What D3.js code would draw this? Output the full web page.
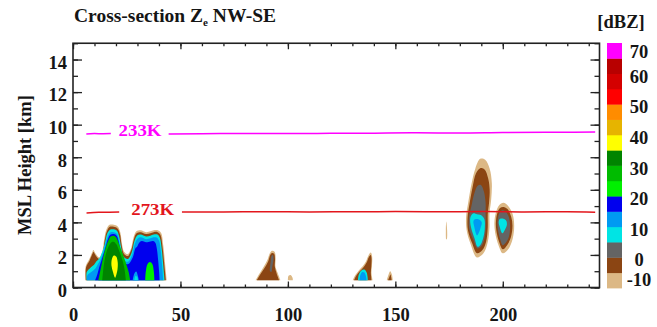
<!DOCTYPE html>
<html>
<head>
<meta charset="utf-8">
<style>
  body{margin:0;background:#fff}
  #cross text{font-family:'Liberation Serif','Times New Roman',serif;font-weight:bold;fill:#151515;font-size:18.5px}
  #cross .frame{fill:none;stroke:#222;stroke-width:1.6px}
  #cross .iso{fill:none;stroke-width:1.5px}
</style>
</head>
<body>
<div id="cross"></div>
<script src="https://d3js.org/d3.v7.min.js"></script>
<script>
// ---- values (distance km, height km, dBZ) ----
var xTicks    = [0, 50, 100, 150, 200];
var yTicks    = [0, 2, 4, 6, 8, 10, 12, 14];
var dbzLevels = [-10, -5, 0, 5, 10, 15, 20, 25, 30, 35, 40, 45, 50, 55, 60, 65];
var dbzColors = ['#dcb885', '#8b4513', '#646464', '#00e4e4', '#009af2', '#0000ee',
                 '#00f000', '#00bb00', '#008400', '#ffff00', '#e6b400', '#ff8c00',
                 '#ff0000', '#d40000', '#b80000', '#ff00ff'];
var dbzLabels = [-10, 0, 10, 20, 30, 40, 50, 60, 70];

// isotherms, split where the label sits
var iso233 = [
  [[6.2, 9.42], [10, 9.45], [14, 9.44], [17.6, 9.45]],
  [[44.5, 9.43], [60, 9.44], [80, 9.46], [100, 9.45], [120, 9.47], [140, 9.48],
   [160, 9.5], [180, 9.49], [200, 9.52], [220, 9.53], [243, 9.55]]
];
var iso273 = [
  [[6.3, 4.58], [12, 4.62], [17, 4.62], [21.5, 4.63]],
  [[50.7, 4.63], [70, 4.64], [90, 4.65], [110, 4.64], [130, 4.65], [150, 4.66],
   [170, 4.65], [190, 4.66], [210, 4.64], [230, 4.65], [243, 4.62]]
];
var isoLabels = [['233K', 31.2, 9.45], ['273K', 37.1, 4.62]];

// echo cells: contour outlines per dBZ level
var cellWest = [
  {dbz: -10, pts: [[5.8,0.45],[5.9,1.3],[7.6,1.75],[8.9,2.15],[9.5,2.3],[10.4,2.1],[12.2,1.85],[13.6,2.2],[14.5,2.95],[15.5,3.55],[17,3.85],[19,3.85],[20.8,3.75],[22,3.4],[22.9,2.6],[23.8,2.2],[25.5,2.05],[27,2.4],[28.2,3.1],[29.5,3.45],[31.5,3.52],[34,3.4],[36,3.45],[37.5,3.52],[39.5,3.52],[41,3.35],[42,2.6],[42.9,1.4],[43.6,0.45]]},
  {dbz: -5, pts: [[6.0,0.45],[6.1,1.25],[7.7,1.65],[9.0,2.05],[9.5,2.18],[10.4,2.0],[12.2,1.75],[13.8,2.1],[14.7,2.85],[15.7,3.43],[17.1,3.73],[19,3.73],[20.7,3.63],[21.8,3.3],[22.7,2.55],[23.7,2.08],[25.5,1.93],[27.1,2.3],[28.4,3.0],[29.6,3.33],[31.5,3.4],[34,3.28],[36,3.33],[37.5,3.4],[39.4,3.4],[40.7,3.23],[41.6,2.55],[42.5,1.4],[43.2,0.45]]},
  {dbz: 5, pts: [[6.3,0.45],[6.4,0.95],[8,1.2],[9.8,1.4],[11,1.62],[12.3,1.8],[13.8,2.25],[14.9,2.75],[15.9,3.3],[17.2,3.55],[19,3.57],[20.5,3.47],[21.5,3.12],[22.4,2.45],[23.5,1.9],[25.5,1.75],[27.3,2.15],[28.6,2.85],[29.8,3.18],[31.5,3.25],[34,3.13],[36,3.18],[37.5,3.25],[39.3,3.25],[40.4,3.05],[41.2,2.45],[42.0,1.35],[42.6,0.45]]},
  {dbz: 10, pts: [[6.5,0.45],[6.7,0.75],[8.5,0.95],[10.3,1.15],[11.6,1.45],[12.8,1.7],[14.1,2.15],[15.1,2.65],[16.1,3.1],[17.3,3.38],[19,3.4],[20.4,3.3],[21.3,2.95],[22.2,2.3],[23.4,1.72],[25.5,1.58],[27.5,2.0],[28.8,2.7],[30,3.0],[31.5,3.08],[34,2.97],[36,3.02],[37.5,3.08],[39.1,3.06],[40.1,2.85],[40.8,2.3],[41.5,1.3],[42.0,0.45]]},
  {dbz: 15, pts: [[10.3,0.45],[11.3,0.8],[12.2,1.25],[13.2,1.65],[14.3,2.1],[15.3,2.55],[16.3,2.98],[17.5,3.25],[19,3.28],[20.3,3.18],[21.2,2.85],[22.1,2.2],[23.3,1.58],[25.5,1.43],[27.8,1.85],[29,2.4],[29.8,2.5],[30.8,2.75],[32,2.85],[34,2.78],[36,2.83],[37.3,2.85],[38.3,2.75],[39,2.4],[39.6,1.7],[40.1,0.9],[40.3,0.45]]},
  {dbz: 25, pts: [[11.8,0.45],[12.5,0.9],[13.3,1.4],[14.0,1.85],[14.9,2.3],[15.8,2.68],[16.7,2.97],[17.7,3.15],[19,3.18],[20.2,3.06],[21.1,2.8],[22.0,2.45],[23.0,2.1],[24.0,1.75],[25.0,1.35],[25.9,0.95],[26.6,0.45]]},
  {dbz: 10, pts: [[27.8,0.45],[28.5,0.85],[29.4,0.98],[30.2,0.7],[30.6,0.45]]},
  {dbz: 5, pts: [[28.6,0.45],[29.1,0.72],[29.9,0.64],[30.2,0.45]]},
  {dbz: 30, pts: [[13.6,0.45],[14.0,1.0],[14.6,1.6],[15.4,2.1],[16.5,2.5],[17.9,2.78],[19.1,2.8],[20.2,2.65],[21.2,2.35],[22.2,2.0],[23.2,1.6],[24.0,1.1],[24.6,0.45]]},
  {dbz: 20, pts: [[33.6,0.45],[33.9,1.0],[34.7,1.45],[35.8,1.57],[36.9,1.45],[37.6,1.0],[37.9,0.45]]}
];
var coreWest = [
  {dbz: 35, pts: [[19.6,0.6],[18.6,0.95],[17.9,1.35],[18.1,1.75],[19.0,1.97],[20.1,1.9],[20.8,1.55],[20.7,1.1],[20.1,0.75]]}
];
var cellMid = [
  {dbz: -10, pts: [[85.0,0.45],[86.5,0.8],[88.6,1.25],[90.5,1.7],[91.6,2.1],[92.6,2.25],[93.8,2.2],[94.3,1.8],[94.2,1.3],[95.2,0.9],[96.5,0.45]]},
  {dbz: -5, pts: [[85.6,0.45],[86.9,0.75],[88.9,1.15],[90.8,1.6],[91.8,2.0],[92.6,2.12],[93.6,2.08],[94.0,1.75],[93.9,1.3],[94.8,0.85],[95.9,0.45]]},
  {dbz: -10, pts: [[100.0,0.45],[100.3,0.72],[101.4,0.76],[102.2,0.58],[102.3,0.45]]},
  {dbz: -10, pts: [[130.2,0.45],[131.3,0.75],[133,1.05],[134.8,1.3],[136.3,1.6],[137.6,2.0],[138.6,2.15],[139.2,1.9],[139.1,1.3],[138.9,0.9],[139.4,0.45]]},
  {dbz: -5, pts: [[130.8,0.45],[131.8,0.72],[133.3,0.98],[135,1.22],[136.5,1.5],[137.7,1.88],[138.5,2.0],[138.9,1.8],[138.8,1.3],[138.6,0.9],[138.9,0.45]]},
  {dbz: 5, pts: [[132.6,0.45],[133,0.8],[134.2,1.05],[135.6,1.1],[136.7,0.9],[137.2,0.45]]},
  {dbz: 10, pts: [[133.3,0.45],[133.7,0.75],[134.6,0.95],[135.6,0.92],[136.3,0.7],[136.6,0.45]]},
  {dbz: -10, pts: [[146.0,0.45],[146.6,0.7],[147.6,1.0],[148.4,0.8],[148.8,0.45]]},
  {dbz: -5, pts: [[146.6,0.45],[147.2,0.65],[147.7,0.8],[148.1,0.6],[148.3,0.45]]}
];
var coreMid = [
  {dbz: 0, pts: [[91.7,1.0],[92.0,1.6],[92.4,1.95],[93.0,2.0],[93.3,1.75],[92.8,1.3],[92.3,0.95]]}
];
var cellEast = [
  {dbz: -10, pts: [[173.7,2.95],[173.5,3.5],[173.7,4.05],[174.1,3.5],[174.0,3.0]]},
  {dbz: -10, pts: [[187.9,1.85],[185.2,2.6],[183.2,3.5],[182.9,4.3],[184.0,5.3],[185.5,6.4],[187.2,7.3],[189.5,7.9],[191.8,7.85],[193.9,7.3],[194.9,6.4],[194.6,5.4],[193.8,4.5],[193.8,3.7],[193.0,2.8],[191.0,2.1]]},
  {dbz: -5, pts: [[188.0,2.1],[185.8,2.7],[183.8,3.5],[183.6,4.3],[184.6,5.2],[186.0,6.2],[187.5,7.0],[189.5,7.33],[191.5,7.25],[193.2,6.7],[193.9,6.0],[193.6,5.2],[193.0,4.5],[193.0,3.7],[192.2,2.8],[190.5,2.3]]},
  {dbz: 0, pts: [[188.2,2.4],[186.4,2.9],[184.4,3.6],[184.3,4.3],[185.4,5.0],[186.8,5.8],[188.3,6.25],[189.8,6.3],[191.2,5.9],[192.0,5.2],[192.0,4.5],[192.1,3.7],[191.3,2.9],[189.8,2.5]]},
  {dbz: 5, pts: [[188.3,2.5],[186.9,3.0],[185.2,3.7],[184.9,4.3],[186.2,4.55],[188.0,4.5],[189.8,4.45],[191.4,4.2],[191.6,3.6],[190.8,3.0],[189.5,2.6]]},
  {dbz: 10, pts: [[188.0,3.2],[186.6,3.8],[186.4,4.1],[187.5,4.2],[189.3,4.15],[190.2,4.0],[189.5,3.6]]},
  {dbz: -10, pts: [[200.0,2.1],[198.0,2.6],[196.4,3.4],[196.1,4.0],[196.8,4.6],[198.3,5.05],[200.3,5.2],[202.5,5.0],[204.6,4.5],[205.3,3.8],[204.6,3.0],[202.5,2.35]]},
  {dbz: -5, pts: [[200.0,2.35],[198.3,2.8],[197.0,3.5],[196.8,4.0],[197.4,4.55],[198.7,4.88],[200.3,4.95],[202.3,4.8],[203.9,4.35],[204.5,3.8],[203.8,3.1],[202.0,2.6]]},
  {dbz: 0, pts: [[200.0,2.6],[198.7,3.0],[197.7,3.6],[197.6,4.1],[198.3,4.55],[199.5,4.73],[201.0,4.7],[202.6,4.4],[203.4,3.8],[202.8,3.1],[201.4,2.75]]},
  {dbz: 5, pts: [[199.8,3.33],[198.6,3.7],[198.1,4.0],[198.6,4.2],[200.3,4.22],[201.6,4.1],[201.9,3.85],[201.0,3.55]]}
];

(function () {

  var
    width   = 657,
    height  = 327,
    xScale  = d3.scaleLinear().domain([0, 245]).range([73, 599.5]),
    yScale  = d3.scaleLinear().domain([0, 15]).range([287.5, 43.25]),
    cbScale = d3.scaleLinear().domain([-10, 70]).range([288, 43]),
    color   = d3.scaleOrdinal().domain(dbzLevels).range(dbzColors),
    vis     = d3.select('#cross').append('svg')
                .attr('width', width)
                .attr('height', height),
    openPath   = d3.line()
                   .x(function (d) { return xScale(d[0]); })
                   .y(function (d) { return yScale(d[1]); })
                   .curve(d3.curveCatmullRom.alpha(0.5)),
    closedPath = d3.line()
                   .x(function (d) { return xScale(d[0]); })
                   .y(function (d) { return yScale(d[1]); })
                   .curve(d3.curveCatmullRomClosed.alpha(0.5)),
    isoPath    = d3.line()
                   .x(function (d) { return xScale(d[0]); })
                   .y(function (d) { return yScale(d[1]); })
                   .curve(d3.curveMonotoneX);

  vis.append('rect').attr('width', width).attr('height', height).attr('fill', '#fff');

  vis.append('clipPath').attr('id', 'plotclip')
    .append('rect')
    .attr('x', xScale(0)).attr('y', yScale(15))
    .attr('width', xScale(245) - xScale(0))
    .attr('height', yScale(0) - yScale(15));

  var plot = vis.append('g').attr('clip-path', 'url(#plotclip)');

  // ground-based cells: open curve closed straight along the lowest beam
  function drawLayers(layers, grounded) {
    plot.append('g').selectAll('path')
      .data(layers)
      .enter().append('path')
      .attr('d', function (d) { return grounded ? openPath(d.pts) + 'Z' : closedPath(d.pts); })
      .attr('fill', function (d) { return color(d.dbz); });
  }
  drawLayers(cellWest, true);
  drawLayers(coreWest, false);
  drawLayers(cellMid, true);
  drawLayers(coreMid, false);
  drawLayers(cellEast, false);

  // isotherms
  iso233.forEach(function (seg) {
    plot.append('path').attr('class', 'iso').attr('d', isoPath(seg)).attr('stroke', '#ff00ff');
  });
  iso273.forEach(function (seg) {
    plot.append('path').attr('class', 'iso').attr('d', isoPath(seg)).attr('stroke', '#e3161c');
  });
  vis.selectAll('.isolab')
    .data(isoLabels)
    .enter().append('text')
    .attr('class', 'isolab')
    .attr('x', function (d) { return xScale(d[1]); })
    .attr('y', function (d) { return yScale(d[2]) + 2.5; })
    .attr('text-anchor', 'middle')
    .attr('textLength', 43)
    .attr('lengthAdjust', 'spacingAndGlyphs')
    .style('font-size', '16px')
    .style('fill', function (d, i) { return i === 0 ? '#ff00ff' : '#e3161c'; })
    .text(function (d) { return d[0]; });

  // axes, ticks pointing inward like the original
  function plain(g) {
    g.select('.domain').remove();
    g.selectAll('line').attr('stroke', '#222').attr('stroke-width', 1.3);
  }
  var xMinor = d3.range(0, 246, 10),
      yMinor = d3.range(0, 16, 1);

  vis.append('g').attr('transform', 'translate(0,' + yScale(0) + ')')
    .call(d3.axisBottom(xScale).tickValues(xMinor).tickSizeInner(-3).tickSizeOuter(0).tickFormat(''))
    .call(plain);
  vis.append('g').attr('transform', 'translate(0,' + yScale(0) + ')')
    .call(d3.axisBottom(xScale).tickValues(xTicks).tickSizeInner(-6).tickSizeOuter(0).tickPadding(20))
    .call(plain);
  vis.append('g').attr('transform', 'translate(0,' + yScale(15) + ')')
    .call(d3.axisTop(xScale).tickValues(xMinor).tickSizeInner(-3).tickSizeOuter(0).tickFormat(''))
    .call(plain);
  vis.append('g').attr('transform', 'translate(0,' + yScale(15) + ')')
    .call(d3.axisTop(xScale).tickValues(xTicks).tickSizeInner(-6).tickSizeOuter(0).tickFormat(''))
    .call(plain);

  vis.append('g').attr('transform', 'translate(' + xScale(0) + ',0)')
    .call(d3.axisLeft(yScale).tickValues(yMinor).tickSizeInner(-5).tickSizeOuter(0).tickFormat(''))
    .call(plain);
  vis.append('g').attr('transform', 'translate(' + xScale(0) + ',0)')
    .call(d3.axisLeft(yScale).tickValues(yTicks).tickSizeInner(-9).tickSizeOuter(0).tickPadding(6))
    .call(plain)
    .selectAll('text').attr('dy', '0.48em');
  vis.append('g').attr('transform', 'translate(' + xScale(245) + ',0)')
    .call(d3.axisRight(yScale).tickValues(yMinor).tickSizeInner(-5).tickSizeOuter(0).tickFormat(''))
    .call(plain);
  vis.append('g').attr('transform', 'translate(' + xScale(245) + ',0)')
    .call(d3.axisRight(yScale).tickValues(yTicks).tickSizeInner(-9).tickSizeOuter(0).tickFormat(''))
    .call(plain);

  vis.append('rect').attr('class', 'frame')
    .attr('x', xScale(0)).attr('y', yScale(15))
    .attr('width', xScale(245) - xScale(0))
    .attr('height', yScale(0) - yScale(15));

  // axis title + chart title
  vis.append('text')
    .attr('transform', 'translate(30.5,165) rotate(-90)')
    .attr('text-anchor', 'middle')
    .text('MSL Height [km]');

  var title = vis.append('text').attr('x', 74).attr('y', 22).style('font-size', '19.5px');
  title.append('tspan').text('Cross-section Z');
  title.append('tspan').attr('dy', 4).style('font-size', '11px').text('e');
  title.append('tspan').attr('dy', -4).text(' NW-SE');

  // colour bar
  vis.append('g').selectAll('rect')
    .data(dbzLevels)
    .enter().append('rect')
    .attr('x', 607)
    .attr('width', 15)
    .attr('y', function (d) { return cbScale(d + 5); })
    .attr('height', function (d) { return cbScale(d) - cbScale(d + 5) + 0.4; })
    .attr('fill', function (d) { return color(d); });

  vis.append('g').selectAll('text')
    .data(dbzLabels)
    .enter().append('text')
    .attr('x', 639)
    .attr('y', function (d) { return Math.max(52, Math.min(280, cbScale(d) + 2.7)) + 6.3; })
    .attr('text-anchor', 'middle')
    .text(function (d) { return d; });

  vis.append('text')
    .attr('x', 621).attr('y', 28)
    .attr('text-anchor', 'middle')
    .text('[dBZ]');

})();
</script>
</body>
</html>
